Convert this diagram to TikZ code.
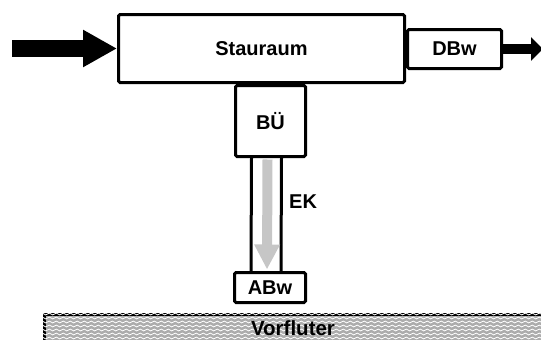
\documentclass[tikz,border=0pt]{standalone}
\usepackage{fontspec}
\setmainfont{Liberation Sans}
\usetikzlibrary{arrows.meta,decorations.pathmorphing}
\begin{document}
\begin{tikzpicture}[x=1pt,y=-1pt,
  box/.style={draw, line width=3pt, rounded corners=1.5pt, fill=white, inner sep=0pt,
    font=\fontsize{20}{24}\selectfont\bfseries},
  bigarrow/.style={line width=17pt, -{Triangle[length=34pt,width=35pt]}},
  smallarrow/.style={line width=10pt, -{Triangle[length=12pt,width=23pt]}},
  flowarrow/.style={draw=gray!45, line width=10pt, -{Triangle[length=25pt,width=24pt]}, color=gray!45},
  channel/.style={line width=3pt}
]
\useasboundingbox (0,0) rectangle (541,340);
\begin{scope}
\clip (0,0) rectangle (541,340);
% Vorfluter
\node (vorf) [draw, line width=3pt, fill=gray!65, minimum width=530pt, minimum height=60pt, inner sep=0pt, anchor=north west] at (42.5,312.5) {};
\begin{scope}
\clip (43,313) rectangle (560,360);
\foreach \yy in {314,318,...,342}
  \draw[white, line width=0.8pt, decorate, decoration={snake, amplitude=0.9pt, segment length=7pt}] (40,\yy) -- (560,\yy);
\end{scope}
\node (vorftext) [font=\fontsize{20.5}{24}\selectfont\bfseries, inner sep=0pt] at (293,328) {Vorfluter};
\end{scope}

\node (stau) [box, minimum width=286pt, minimum height=68pt] at (261.5,48.5) {Stauraum};
\node (dbw) [box, minimum width=94pt, minimum height=39pt, anchor=west] at (stau.east |- 0,49) {DBw};
\node (bue) [box, minimum width=70pt, minimum height=71pt] at (270.5,121) {BÜ};
\node (abw) [box, minimum width=71pt, minimum height=30pt] at (270,287.5) {ABw};

% Einstaukanal
\draw[channel] ([xshift=-19pt]bue.south) -- ([xshift=-19pt]abw.north);
\draw[channel] ([xshift=11pt]bue.south) -- ([xshift=11pt]abw.north);
\coordinate (flowtop) at ([xshift=-3pt,yshift=-1.5pt]bue.south);
\coordinate (flowbot) at ([xshift=-3pt,yshift=1.5pt]abw.north);
\draw[flowarrow] (flowtop) -- (flowbot);
\node (ek) [font=\fontsize{20}{24}\selectfont\bfseries, inner sep=0pt, anchor=west] at (289,202) {EK};

% Zu- und Abfluss
\coordinate (inflow) at (12,48.5);
\draw[bigarrow] (inflow) -- (stau.west);
\coordinate (outflow) at (543,49);
\draw[smallarrow] (dbw.east) -- (outflow);
\end{tikzpicture}
\end{document}
